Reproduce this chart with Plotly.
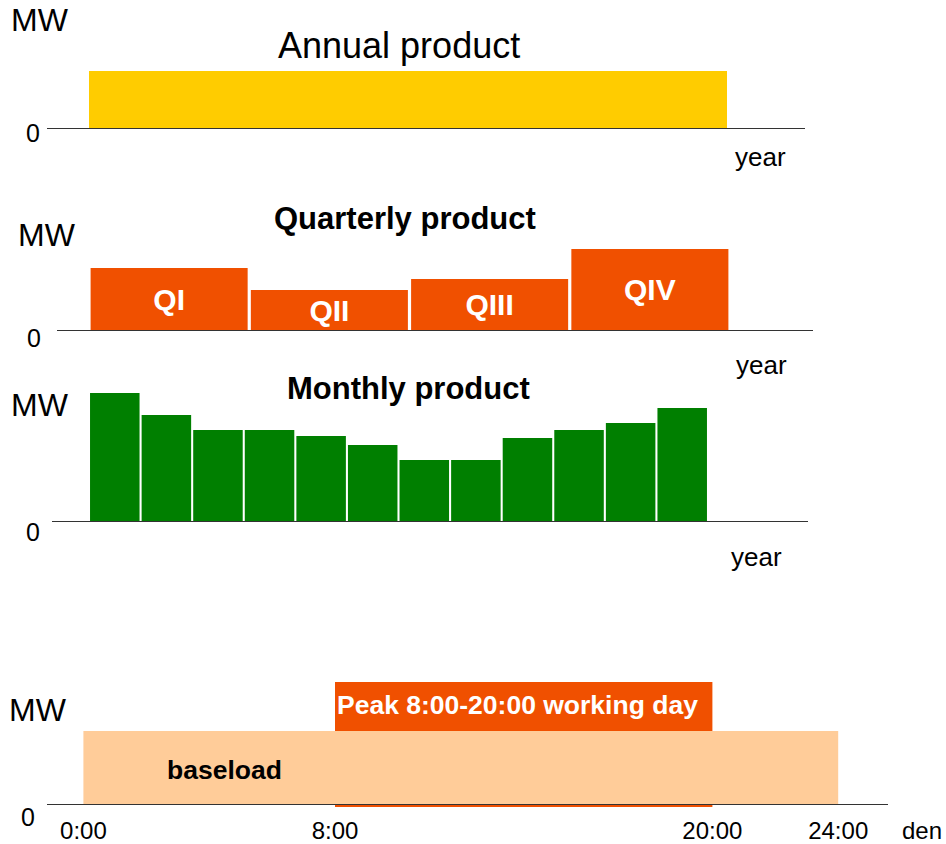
import plotly.graph_objects as go

W, H = 946, 844
FONT = "Liberation Sans, Arial, sans-serif"

# ---------------- data ----------------
annual_label = ["Year"]
annual_mw = [57]

quarters = ["QI", "QII", "QIII", "QIV"]
quarter_mw = [62, 40, 51, 81]

months = ["Jan", "Feb", "Mar", "Apr", "May", "Jun",
          "Jul", "Aug", "Sep", "Oct", "Nov", "Dec"]
month_mw = [128, 106, 91, 91, 85, 76, 61, 61, 83, 91, 98, 113]

day_ticks = [0, 8, 20, 24]
day_tick_labels = ["0:00", "8:00", "20:00", "24:00"]
base_start, base_end, base_mw = 0, 24, 73
peak_start, peak_end, peak_mw = 8, 20, 122

# ---------------- helpers ----------------
def fx(p):
    return p / W

def fy(p):
    return 1 - p / H

ORANGE = "#F05000"

fig = go.Figure()

# Panel 1: annual product
fig.add_trace(go.Bar(x=[0.5], y=annual_mw, width=[1.0], marker=dict(color="#FFCC00", line=dict(width=0)),
                     xaxis="x", yaxis="y", hoverinfo="skip"))

# Panel 2: quarterly product
fig.add_trace(go.Bar(x=quarters, y=quarter_mw, width=0.98, marker=dict(color=ORANGE, line=dict(width=0)),
                     text=["<b>%s</b>" % q for q in quarters], textposition="inside",
                     insidetextanchor="middle", constraintext="none", textangle=0,
                     textfont=dict(color="white", size=30, family=FONT),
                     xaxis="x2", yaxis="y2", hoverinfo="skip"))

# Panel 3: monthly product
fig.add_trace(go.Bar(x=months, y=month_mw, width=0.96, marker=dict(color="#007F00", line=dict(width=0)),
                     xaxis="x3", yaxis="y3", hoverinfo="skip"))

# Panel 4: day profile (peak behind baseload)
fig.add_trace(go.Bar(x=[(peak_start + peak_end) / 2], y=[peak_mw + 3], base=[-3],
                     width=[peak_end - peak_start], marker=dict(color=ORANGE, line=dict(width=0)),
                     xaxis="x4", yaxis="y4", hoverinfo="skip"))
fig.add_trace(go.Bar(x=[(base_start + base_end) / 2], y=[base_mw], base=[0],
                     width=[base_end - base_start], marker=dict(color="#FFCC99", line=dict(width=0)),
                     xaxis="x4", yaxis="y4", hoverinfo="skip"))

axis_line = dict(showline=True, linecolor="#333333", linewidth=1.3, showgrid=False,
                 zeroline=False, ticks="", fixedrange=True)
hidden_y = dict(showline=False, showgrid=False, zeroline=False, showticklabels=False,
                ticks="", fixedrange=True)

# pixel geometry of each panel
p1_l, p1_r, b1_l, b1_r = 47, 805, 89, 727
s1 = (b1_r - b1_l) / 1.0
p2_l, p2_r, b2_l, b2_r = 57, 813, 89, 730
s2 = (b2_r - b2_l) / 4
p3_l, p3_r, b3_l, b3_r = 52, 808, 89, 708
s3 = (b3_r - b3_l) / 12
a4, k4 = 83.4, 31.45
p4_l, p4_r = 47, 888

fig.update_layout(
    width=W, height=H, margin=dict(l=0, r=0, t=0, b=0, autoexpand=False),
    paper_bgcolor="white", plot_bgcolor="white", showlegend=False,
    barmode="overlay",
    xaxis=dict(domain=[fx(p1_l), fx(p1_r)], anchor="y",
               range=[(p1_l - b1_l) / s1, 1 + (p1_r - b1_r) / s1], showticklabels=False, **axis_line),
    yaxis=dict(domain=[fy(128), fy(60)], anchor="x", range=[0, 68], **hidden_y),
    xaxis2=dict(domain=[fx(p2_l), fx(p2_r)], anchor="y2", type="category",
                range=[-0.5 - (b2_l - p2_l) / s2, 3.5 + (p2_r - b2_r) / s2], showticklabels=False, **axis_line),
    yaxis2=dict(domain=[fy(330), fy(240)], anchor="x2", range=[0, 90], **hidden_y),
    xaxis3=dict(domain=[fx(p3_l), fx(p3_r)], anchor="y3", type="category",
                range=[-0.5 - (b3_l - p3_l) / s3, 11.5 + (p3_r - b3_r) / s3], showticklabels=False, **axis_line),
    yaxis3=dict(domain=[fy(521), fy(385)], anchor="x3", range=[0, 136], **hidden_y),
    xaxis4=dict(domain=[fx(p4_l), fx(p4_r)], anchor="free", position=fy(804),
                range=[(p4_l - a4) / k4, (p4_r - a4) / k4],
                tickmode="array", tickvals=day_ticks, ticktext=day_tick_labels,
                tickfont=dict(family=FONT, size=24, color="black"), ticklabelstandoff=5,
                automargin=False, **axis_line),
    yaxis4=dict(domain=[fy(807), fy(680)], anchor="x4", range=[-3, 124], **hidden_y),
)

def ann(text, x, y, size, bold=False, color="black"):
    fig.add_annotation(text=("<b>%s</b>" % text) if bold else text, x=fx(x), y=fy(y),
                       xref="paper", yref="paper", xanchor="center", yanchor="middle",
                       showarrow=False, font=dict(family=FONT, size=size, color=color))

# titles
ann("Annual product", 399, 45, 36)
ann("Quarterly product", 405, 218, 31, bold=True)
ann("Monthly product", 408, 388, 31, bold=True)

# MW labels
for x, y in [(40, 20), (47, 235), (40, 405), (38, 710)]:
    ann("MW", x, y, 32)
# zeros
for x, y in [(33, 133), (34, 338), (33, 532), (28, 817)]:
    ann("0", x, y, 25)
# year labels
for x, y in [(760, 157), (761, 365), (756, 557)]:
    ann("year", x, y, 26)
ann("den", 922, 830, 24)

# day panel labels
ann("Peak 8:00-20:00 working day", 517, 705, 26.5, bold=True, color="white")
ann("baseload", 224, 770, 26.5, bold=True)

fig.write_html("out.html", config={"displayModeBar": False},
               post_script="document.body.style.margin='0';document.body.style.overflow='hidden';")
